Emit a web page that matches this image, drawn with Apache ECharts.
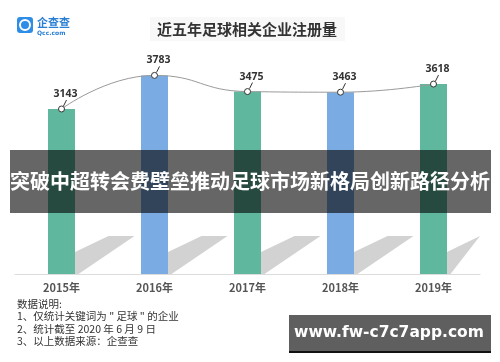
<!DOCTYPE html>
<html><head><meta charset="utf-8">
<script src="https://cdn.jsdelivr.net/npm/echarts@6/dist/echarts.min.js"></script>
<style>html,body{margin:0;padding:0;background:#fff}#c{width:500px;height:362px}</style>
</head><body><div id="c"></div>
<script>
const categories = ['2015年', '2016年', '2017年', '2018年', '2019年'];
const values = [3143, 3783, 3475, 3463, 3618];
const titleText = '近五年足球相关企业注册量';
const bannerText = '突破中超转会费壁垒推动足球市场新格局创新路径分析';
const notes = ['数据说明:', '1、仅统计关键词为 " 足球 " 的企业', '2、统计截至 2020 年 6 月 9 日', '3、以上数据来源：企查查'];
const watermark = 'www.fw-c7c7app.com';

const CJK = '"Noto Sans CJK SC", "Noto Sans", sans-serif';
const chart = echarts.init(document.getElementById('c'), null, {renderer: 'canvas'});

chart.setOption({
  animation: false,
  backgroundColor: '#fff',
  grid: {left: 15, right: 20, top: 64, bottom: 88, containLabel: false},
  xAxis: {
    type: 'category', data: categories, boundaryGap: true,
    axisLine: {show: true, lineStyle: {color: '#dcdcdc', width: 1}},
    axisTick: {show: false},
    axisLabel: {color: '#555', fontSize: 11, fontWeight: 'bold', fontFamily: CJK, margin: 8}
  },
  yAxis: {type: 'value', min: 0, max: 4000, show: false, splitLine: {show: false}},
  series: [
    {
      type: 'custom', z: 1, clip: true,
      data: categories.map((c, i) => [i]),
      encode: {x: 0},
      renderItem: function (params, api) {
        const p = api.coord([api.value(0), 0]);
        const cs = params.coordSys;
        const right = cs.x + cs.width;
        const cx = p[0], b = p[1];
        let pts = [[cx + 13.5, b - 22], [cx + 47, b - 38], [cx + 73, b - 38], [cx + 17, b], [cx + 13.5, b]];
        pts = pts.map(q => [Math.min(q[0], right), q[1]]);
        return {type: 'polygon', shape: {points: pts}, style: {fill: '#d2d2d2'}};
      }
    },
    {
      type: 'bar', z: 2, data: values, barWidth: 27,
      itemStyle: {color: function (p) { return p.dataIndex % 2 === 0 ? '#5fb89d' : '#7aabe2'; }}
    },
    {
      type: 'line', z: 3, data: values, smooth: true,
      symbol: 'circle', symbolSize: 6,
      lineStyle: {color: '#9a9a9a', width: 1},
      itemStyle: {color: '#fff', borderColor: '#333', borderWidth: 1}
    },
    {
      type: 'custom', z: 4,
      data: values.map((v, i) => [i, v]),
      encode: {x: 0, y: 1},
      renderItem: function (params, api) {
        const p = api.coord([api.value(0), api.value(1)]);
        return {
          type: 'group', children: [
            {type: 'line', shape: {x1: p[0] + 2, y1: p[1] - 3, x2: p[0] + 5, y2: p[1] - 9}, style: {stroke: '#333', lineWidth: 1}},
            {type: 'text', x: p[0] + 4, y: p[1] - 15, style: {text: String(api.value(1)), fill: '#333', font: 'bold 10.5px "Noto Sans", sans-serif', align: 'center', verticalAlign: 'middle'}}
          ]
        };
      }
    }
  ],
  graphic: [
    {type: 'rect', z: 10, shape: {x: 17, y: 17, width: 16, height: 16, r: 3}, style: {fill: '#2e8de6'}},
    {type: 'circle', z: 11, shape: {cx: 25, cy: 25, r: 5}, style: {fill: 'none', stroke: '#fff', lineWidth: 2}},
    {type: 'text', z: 11, x: 37, y: 23, style: {text: '企查查', fill: '#2a7fd4', font: 'bold 11px ' + CJK, verticalAlign: 'middle'}},
    {type: 'text', z: 11, x: 37, y: 33, style: {text: 'Qcc.com', fill: '#2a7fd4', font: 'bold 6px "DejaVu Sans", sans-serif', verticalAlign: 'middle'}},
    {type: 'rect', z: 10, shape: {x: 150, y: 17, width: 195, height: 24}, style: {fill: '#f8f8f8'}},
    {type: 'text', z: 11, x: 157, y: 29, style: {text: titleText, fill: '#333', font: 'bold 15px ' + CJK, verticalAlign: 'middle'}},
    {type: 'group', z: 10, children: notes.map((t, i) => ({
      type: 'text', x: 17, y: 304 + i * 12.5, z: 10,
      style: {text: t, fill: '#333', font: '10.5px ' + CJK, verticalAlign: 'middle'}
    }))},
    {type: 'rect', z: 100, shape: {x: 10, y: 150, width: 481, height: 63}, style: {fill: 'rgba(0,0,0,0.6)'}},
    {type: 'text', z: 101, x: 250, y: 181, style: {text: bannerText, fill: '#fff', font: 'bold 20px ' + CJK, align: 'center', verticalAlign: 'middle'}},
    {type: 'rect', z: 100, shape: {x: 289, y: 315, width: 202, height: 37}, style: {fill: '#5f5f5f'}},
    {type: 'rect', z: 100, shape: {x: 289, y: 351, width: 202, height: 2}, style: {fill: '#111'}},
    {type: 'text', z: 101, x: 389, y: 333, style: {text: watermark, fill: '#fff', font: 'bold 15.5px "DejaVu Sans", sans-serif', align: 'center', verticalAlign: 'middle'}}
  ]
});
</script></body></html>
